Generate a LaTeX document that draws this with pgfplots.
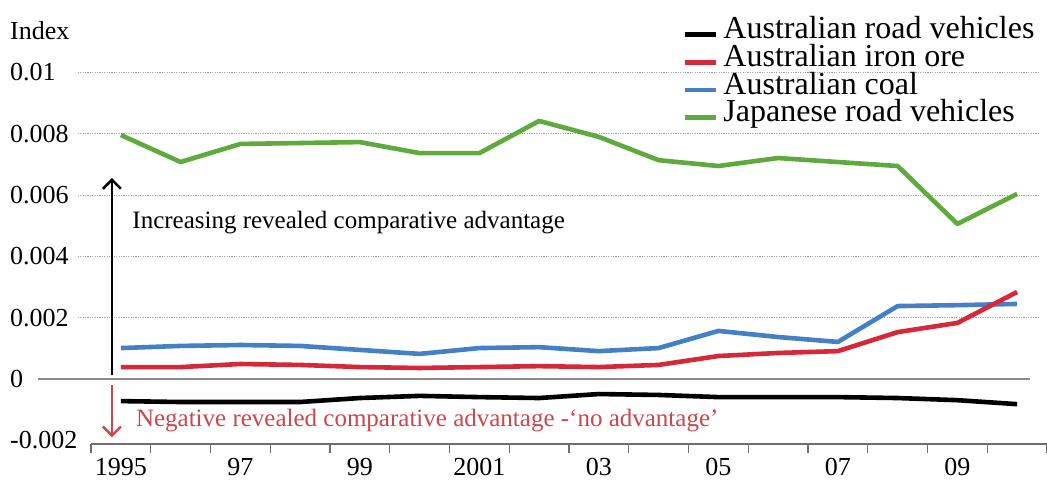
\documentclass[border=0pt]{standalone}
\usepackage{pgfplots}
\pgfplotsset{compat=1.18}
\usepackage{fontspec}
\setmainfont{Liberation Serif}
\usetikzlibrary{arrows.meta}
\definecolor{redline}{RGB}{214,40,57}
\definecolor{blueline}{RGB}{68,128,198}
\definecolor{greenline}{RGB}{95,170,60}
\definecolor{redtext}{RGB}{205,70,75}
\definecolor{gridgray}{RGB}{165,165,165}
\definecolor{zerogray}{RGB}{140,140,140}
\definecolor{axisgray}{RGB}{110,110,110}
\begin{document}
\begin{tikzpicture}
\useasboundingbox (0,0) rectangle (1047pt,480pt);
\node[anchor=west, inner sep=0pt, font=\fontsize{26}{26}\selectfont] at (10pt,449pt) {Index};
\begin{axis}[
 at={(91pt,36pt)}, anchor=south west,
 scale only axis, width=956pt, height=386.8pt,
 xmin=1994.5, xmax=2010.5, ymin=-0.00212, ymax=0.0105,
 axis x line*=bottom, axis y line*=left,
 y axis line style={draw=none},
 x axis line style={draw=axisgray, line width=1.3pt, -},
 xtick={1995,1997,1999,2001,2003,2005,2007,2009},
 xticklabels={1995,97,99,2001,03,05,07,09},
 minor xtick={1994.5,1995.5,1996.5,1997.5,1998.5,1999.5,2000.5,2001.5,2002.5,2003.5,2004.5,2005.5,2006.5,2007.5,2008.5,2009.5,2010.5},
 major tick length=0pt, minor tick length=9pt, xtick align=outside,
 minor tick style={draw=axisgray, line width=1.3pt},
 ytick={-0.002,0,0.002,0.004,0.006,0.008,0.01},
 yticklabels={-0.002,0,0.002,0.004,0.006,0.008,0.01},
 scaled y ticks=false,
 yticklabel style={anchor=west, xshift=-81pt, inner sep=0pt, font=\fontsize{26}{26}\selectfont},
 xticklabel style={anchor=north, yshift=-14pt, inner sep=0pt, font=\fontsize{26}{26}\selectfont},
 clip=false,
 legend cell align=left,
 legend style={at={(0.6192,1.102)}, anchor=north west, draw=none, fill=none, inner sep=0pt, outer sep=0pt, row sep=0pt, column sep=5pt, font=\fontsize{32}{32}\selectfont, nodes={inner sep=0pt, text height=21pt, text depth=6.7pt}},
 legend image code/.code={\draw[#1, line width=4.5pt] (0pt,-3pt) -- (31pt,-3pt);},
]
\pgfplotsinvokeforeach{0.002,0.004,0.006,0.008,0.01}{
  \draw[gridgray, line width=0.8pt, dash pattern=on 1.2pt off 1.2pt] (axis cs:1994.28,#1) -- (axis cs:2010.35,#1);
}
\draw[zerogray, line width=1.2pt] (axis cs:1993.61,0) -- (axis cs:2010.22,0);

\addlegendimage{black}
\addlegendentry{Australian road vehicles}
\addlegendimage{redline}
\addlegendentry{Australian iron ore}
\addlegendimage{blueline}
\addlegendentry{Australian coal}
\addlegendimage{greenline}
\addlegendentry{Japanese road vehicles}

\addplot[blueline, line width=4.6pt, line join=round, forget plot] coordinates {
(1995,0.00101) (1996,0.00108) (1997,0.00111) (1998,0.00108) (1999,0.00095) (2000,0.00082) (2001,0.00101) (2002,0.00104)
(2003,0.00091) (2004,0.00101) (2005,0.00157) (2006,0.00137) (2007,0.00121) (2008,0.00238) (2009,0.00241) (2010,0.00245)};
\addplot[redline, line width=4.6pt, line join=round, forget plot] coordinates {
(1995,0.00039) (1996,0.00039) (1997,0.00049) (1998,0.00046) (1999,0.00039) (2000,0.00036) (2001,0.00039) (2002,0.00042)
(2003,0.00039) (2004,0.00046) (2005,0.00075) (2006,0.00085) (2007,0.00091) (2008,0.00153) (2009,0.00183) (2010,0.00284)};
\addplot[black, line width=4.6pt, line join=round, forget plot] coordinates {
(1995,-0.00072) (1996,-0.00075) (1997,-0.00075) (1998,-0.00075) (1999,-0.00062) (2000,-0.00055) (2001,-0.00059) (2002,-0.00062)
(2003,-0.00049) (2004,-0.00052) (2005,-0.00059) (2006,-0.00059) (2007,-0.00059) (2008,-0.00062) (2009,-0.00069) (2010,-0.00082)};
\addplot[greenline, line width=4.6pt, line join=round, forget plot] coordinates {
(1995,0.00796) (1996,0.00708) (1997,0.00767) (1998,0.00770) (1999,0.00773) (2000,0.00737) (2001,0.00737) (2002,0.00842)
(2003,0.00790) (2004,0.00714) (2005,0.00695) (2006,0.00721) (2007,0.00708) (2008,0.00695) (2009,0.00506) (2010,0.00604)};

\draw[black, line width=2.6pt, -{Straight Barb[length=9pt, width=18pt]}] (axis cs:1994.85,0.00013) -- (axis cs:1994.85,0.00656);
\draw[redtext, line width=2.4pt, -{Straight Barb[length=9pt, width=18pt]}] (axis cs:1994.85,-0.0002) -- (axis cs:1994.85,-0.0019);
\node[anchor=west, inner sep=0pt, font=\fontsize{25}{25}\selectfont] at (axis cs:1995.19,0.0051) {Increasing revealed comparative advantage};
\node[anchor=west, inner sep=0pt, text=redtext, font=\fontsize{25}{25}\selectfont] at (axis cs:1995.25,-0.00135) {Negative revealed comparative advantage -`no advantage'};
\end{axis}
\end{tikzpicture}
\end{document}
